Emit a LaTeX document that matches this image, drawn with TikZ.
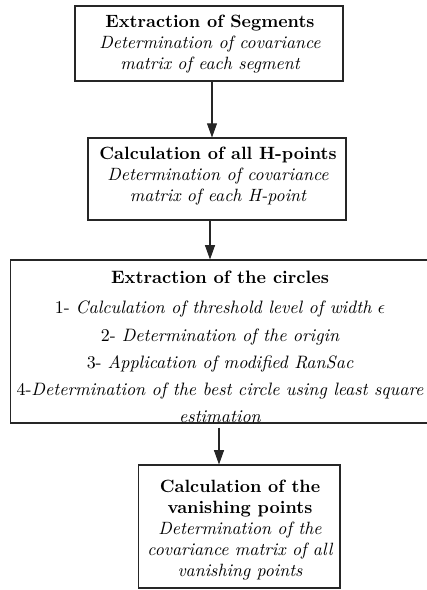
\documentclass[tikz,border=0pt]{standalone}
\usetikzlibrary{arrows.meta}
\begin{document}
\begin{tikzpicture}[x=0.5625pt,y=-0.5625pt]
\tikzset{
  boxn/.style={draw=black!85, line width=0.6pt, inner sep=0pt, fill=none},
  txt/.style={align=center, inner sep=0pt, anchor=north, font=\fontsize{10}{11.8}\selectfont},
  txtwide/.style={txt, font=\fontsize{10.1}{15.2}\selectfont},
  arr/.style={line width=0.6pt, draw=black!85, -{Triangle[length=8pt,width=5.6pt]}}
}
\useasboundingbox (0,0) rectangle (427,590);
% boxes
\node[boxn, minimum width=150.75pt, minimum height=42.2pt] (b1) at (209,43.5) {};
\node[boxn, minimum width=145.1pt, minimum height=46.1pt] (b2) at (217,179) {};
\node[boxn, minimum width=235.7pt, minimum height=91.7pt] (b3) at (220,341.5) {};
\node[boxn, minimum width=113.1pt, minimum height=69.2pt] (b4) at (239.5,526.5) {};
% texts
\node[txt] (t1) at (210,14.4) {\bfseries Extraction of Segments\\
  \itshape Determination of covariance\\ \itshape matrix of each segment};
\node[txt] (t2) at (218,147) {\bfseries Calculation of all H-points\\
  \itshape Determination of covariance\\ \itshape matrix of each H-point};
\node[txtwide] (t3) at (220,271) {\bfseries Extraction of the circles\\[1.7pt]
  1- \itshape Calculation of threshold level of width $\epsilon$\\
  2- \itshape Determination of the origin\\
  3- \itshape Application of modified RanSac\\
  4-\itshape Determination of the best circle using least square\\
  \itshape estimation};
\node[txt] (t4) at (240,479.4) {\bfseries Calculation of the\\ \bfseries vanishing points\\
  \itshape Determination of the\\ \itshape covariance matrix of all\\ \itshape vanishing points};
% connectors
\coordinate (x1) at (212,0);
\coordinate (x2) at (210,0);
\coordinate (x3) at (219,0);
\path (b3.south -| x3) ++(0,4) coordinate (a3s);
\draw[arr] (b1.south -| x1) -- (b2.north -| x1);
\draw[arr] (b2.south -| x2) -- (b3.north -| x2);
\draw[arr] (a3s) -- (b4.north -| x3);
\end{tikzpicture}
\end{document}
